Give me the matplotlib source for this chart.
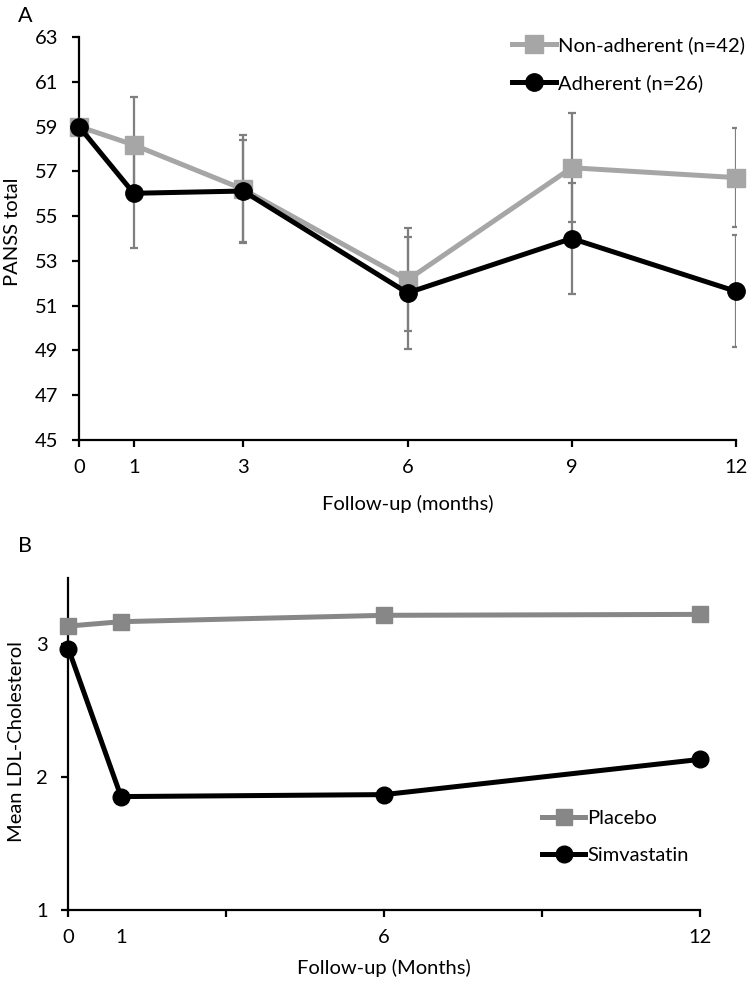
import matplotlib
matplotlib.use("Agg")
import matplotlib.pyplot as plt

plt.rcParams['font.family'] = ['Lato', 'DejaVu Sans']

# Panel A data
months_a = [0, 1, 3, 6, 9, 12]
nonadh = [59.0, 58.18, 56.2, 52.15, 57.16, 56.72]
nonadh_err = [0, 2.15, 2.42, 2.3, 2.43, 2.2]
adh = [59.0, 56.02, 56.12, 51.57, 54.0, 51.64]
adh_err = [0, 2.46, 2.28, 2.5, 2.47, 2.5]
xticks_a = [0, 1, 3, 6, 9, 12]
yticks_a = [45, 47, 49, 51, 53, 55, 57, 59, 61, 63]

# Panel B data
months_b = [0, 1, 6, 12]
placebo = [3.138, 3.171, 3.219, 3.226]
simva = [2.967, 1.854, 1.869, 2.134]
yticks_b = [1, 2, 3]
xticks_b_major = [0, 3, 6, 9, 12]
xlabels_b = ['0', '1', '6', '12']
xlabel_pos_b = [0, 1, 6, 12]

W, H = 750, 985
fig = plt.figure(figsize=(W/100, H/100), dpi=100)

def ax_at(l, t, r, b):
    return fig.add_axes([l/W, 1-b/H, (r-l)/W, (b-t)/H])

GRAY_L = '#a6a6a6'
GRAY_E = '#7f7f7f'
GRAY_B = '#878787'
FS = 14.5
TL = 5      # tick length (pt)
TP = 9      # tick pad (pt)

# ---------- Panel A ----------
AL, AT, AR, AB = 79, 37, 736, 440
ax = ax_at(AL, AT, AR, AB)
ax.errorbar(months_a[1:], nonadh[1:], yerr=nonadh_err[1:], fmt='none', ecolor=GRAY_E,
            elinewidth=1.6, capsize=2.8, capthick=1.6, zorder=1)
ax.errorbar(months_a[1:], adh[1:], yerr=adh_err[1:], fmt='none', ecolor=GRAY_E,
            elinewidth=1.6, capsize=2.8, capthick=1.6, zorder=1)
ax.plot(months_a, nonadh, color=GRAY_L, lw=3.6, marker='s', ms=13, mec=GRAY_L,
        mfc=GRAY_L, clip_on=False, zorder=3, label='Non-adherent (n=42)')
ax.plot(months_a, adh, color='black', lw=3.6, marker='o', ms=12.5, clip_on=False,
        zorder=4, label='Adherent (n=26)')
ax.set_xlim(0, 12)
ax.set_ylim(45, 63)
ax.set_xticks(xticks_a)
ax.set_yticks(yticks_a)
for s in ['top', 'right']:
    ax.spines[s].set_visible(False)
for s in ['left', 'bottom']:
    ax.spines[s].set_linewidth(1.6)
ax.tick_params(axis='both', labelsize=FS, width=1.6, length=TL, direction='out')
ax.tick_params(axis='x', pad=TP)
ax.tick_params(axis='y', pad=TP + 1)
ax.set_xlabel('Follow-up (months)', fontsize=FS, va='center')
ax.xaxis.set_label_coords(0.5, (AB - 504) / (AB - AT))
ax.set_ylabel('PANSS total', fontsize=FS, va='center', ha='center')
ax.yaxis.set_label_coords((13 - AL) / (AR - AL), (AB - 232) / (AB - AT))
ax.legend(loc='upper left', bbox_to_anchor=(512/W, 1-36/H), bbox_transform=fig.transFigure,
          frameon=False, fontsize=FS, handlelength=2.2, handletextpad=0.1,
          labelspacing=1.0, borderpad=0, borderaxespad=0)
fig.text(18/W, 1-16/H, 'A', fontsize=FS+1, ha='left', va='center')

# ---------- Panel B ----------
BL, BT, BR, BB = 68.4, 578, 700, 910
bx = ax_at(BL, BT, BR, BB)
bx.plot(months_b, placebo, color=GRAY_B, lw=3.6, marker='s', ms=11.5, clip_on=False,
        zorder=3, label='Placebo')
bx.plot(months_b, simva, color='black', lw=3.6, marker='o', ms=12, clip_on=False,
        zorder=4, label='Simvastatin')
bx.set_xlim(0, 12)
bx.set_ylim(1, 3.5)
bx.set_yticks(yticks_b)
bx.xaxis.remove_overlapping_locs = False
bx.set_xticks(xticks_b_major)
bx.set_xticklabels([])
bx.set_xticks(xlabel_pos_b, minor=True)
bx.set_xticklabels(xlabels_b, minor=True)
for s in ['top', 'right']:
    bx.spines[s].set_visible(False)
for s in ['left', 'bottom']:
    bx.spines[s].set_linewidth(1.6)
bx.tick_params(axis='both', which='major', labelsize=FS, width=1.6, length=TL, direction='out')
bx.tick_params(axis='y', pad=TP + 1)
bx.tick_params(axis='x', which='minor', labelsize=FS, length=0, pad=TL + TP)
bx.set_xlabel('Follow-up (Months)', fontsize=FS, va='center')
bx.xaxis.set_label_coords((384 - BL) / (BR - BL), (BB - 968) / (BB - BT))
bx.set_ylabel('Mean LDL-Cholesterol', fontsize=FS, va='center', ha='center')
bx.yaxis.set_label_coords((17 - BL) / (BR - BL), (BB - 742) / (BB - BT))
bx.legend(loc='upper left', bbox_to_anchor=(542/W, 1-810/H), bbox_transform=fig.transFigure,
          frameon=False, fontsize=FS, handlelength=2.15, handletextpad=0.1,
          labelspacing=1.0, borderpad=0, borderaxespad=0)
fig.text(18/W, 1-546/H, 'B', fontsize=FS+1, ha='left', va='center')

fig.savefig('out.png', dpi=100)
